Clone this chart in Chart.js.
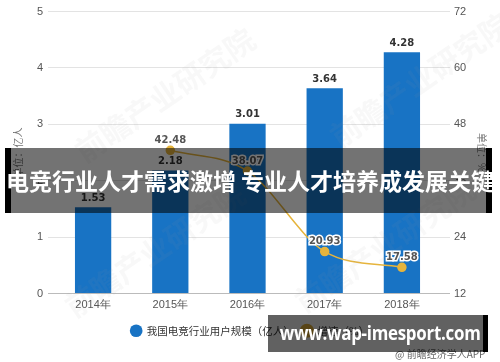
<!DOCTYPE html>
<html>
<head>
<meta charset="utf-8">
<script src="https://cdn.jsdelivr.net/npm/chart.js@4.4.0/dist/chart.umd.min.js"></script>
<style>
    html, body { margin: 0; padding: 0; background: #fff; }
    #wrap { position: relative; width: 500px; height: 362px; overflow: hidden; }
    #banner {
        position: absolute; left: 5px; top: 148px; width: 475px; height: 65px;
        background: rgba(0, 0, 0, 0.55);
        border-left: 6px solid #000; border-right: 6px solid #000;
    }
    #bannerText {
        position: absolute; left: 0; top: 148px; width: 500px; height: 65px;
        color: #fff; font-family: "Noto Sans CJK SC", sans-serif; font-weight: bold;
        font-size: 23px; line-height: 65px; text-align: center; white-space: nowrap;
        letter-spacing: 0px;
    }
    #site {
        position: absolute; left: 268px; top: 315px; width: 215px; height: 37px;
        background: rgba(0, 0, 0, 0.62);
        border-right: 5px solid #000;
    }
    #siteText {
        position: absolute; left: 268px; top: 315px; width: 215px; height: 37px;
        color: #fff; font-family: "Open Sans", sans-serif; font-weight: bold;
        font-size: 19px; line-height: 37px; text-align: center; white-space: nowrap;
        letter-spacing: -0.3px; transform: scaleX(0.89); transform-origin: 50% 50%;
    }
    #source {
        position: absolute; left: 395px; top: 346px; font-size: 10px; color: #666;
        font-family: "Noto Sans CJK SC", sans-serif; white-space: nowrap;
    }
</style>
</head>
<body>
<div id="wrap">
    <canvas id="chart" width="500" height="362"></canvas>
    <div id="source">@ 前瞻经济学人APP</div>
    <div id="banner"></div>
    <div id="bannerText">电竞行业人才需求激增 专业人才培养成发展关键</div>
    <div id="site"></div>
    <div id="siteText">www.wap-imesport.com</div>
</div>
<script>
const years = ['2014年', '2015年', '2016年', '2017年', '2018年'];
const users = [1.53, 2.18, 3.01, 3.64, 4.28];
const growth = [null, 42.48, 38.07, 20.93, 17.58];
const userLabel = '我国电竞行业用户规模（亿人）';
const growthLabel = '增速（%）';

const blue = '#1873c4';
const gold = '#e6b43c';

// the category band sits a little inside the gridlines
const insetX = {
    id: 'insetX',
    afterLayout(chart) {
        const x = chart.scales.x;
        x.left += 6.5;
        x.right -= 9.5;
        x.width = x.right - x.left;
        x.configure();
    }
};

// value labels over bars and line points
const valueLabels = {
    id: 'valueLabels',
    afterDatasetsDraw(chart) {
        const ctx = chart.ctx;
        ctx.save();
        ctx.textAlign = 'center';
        ctx.textBaseline = 'bottom';
        ctx.font = 'bold 10px "DejaVu Sans", sans-serif';

        chart.getDatasetMeta(0).data.forEach((bar, i) => {
            ctx.fillStyle = '#333';
            ctx.fillText(users[i].toFixed(2), bar.x, bar.y - 4);
        });

        chart.getDatasetMeta(1).data.forEach((pt, i) => {
            if (growth[i] == null) return;
            const txt = growth[i].toFixed(2);
            ctx.lineWidth = 3;
            ctx.strokeStyle = '#fff';
            ctx.strokeText(txt, pt.x, pt.y - 5);
            ctx.fillStyle = '#555';
            ctx.fillText(txt, pt.x, pt.y - 5);
        });
        ctx.restore();
    }
};

// faint brand watermark
const watermark = {
    id: 'watermark',
    afterDatasetsDraw(chart) {
        const ctx = chart.ctx;
        const spots = [[165, 95], [420, 80], [155, 250], [385, 245]];
        ctx.save();
        ctx.font = 'bold 30px "Noto Sans CJK SC"';
        ctx.textAlign = 'center';
        ctx.textBaseline = 'middle';
        spots.forEach(([x, y]) => {
            ctx.save();
            ctx.translate(x, y);
            ctx.rotate(-0.6);
            ctx.fillStyle = 'rgba(150, 150, 150, 0.07)';
            ctx.fillText('前瞻产业研究院', 0, 0);
            ctx.restore();
        });
        ctx.restore();
    }
};

new Chart(document.getElementById('chart'), {
    data: {
        labels: years,
        datasets: [{
            type: 'bar',
            label: userLabel,
            data: users,
            backgroundColor: blue,
            yAxisID: 'y',
            order: 1,
            categoryPercentage: 1,
            barPercentage: 0.47
        }, {
            type: 'line',
            label: growthLabel,
            data: growth,
            borderColor: gold,
            backgroundColor: gold,
            borderWidth: 1.5,
            pointRadius: 4,
            pointBackgroundColor: gold,
            pointBorderColor: gold,
            cubicInterpolationMode: 'monotone',
            yAxisID: 'y1',
            order: 0
        }]
    },
    options: {
        responsive: false,
        animation: false,
        layout: { padding: { top: 5, bottom: 16 } },
        plugins: {
            legend: {
                position: 'bottom',
                labels: {
                    usePointStyle: true,
                    pointStyle: 'circle',
                    boxHeight: 9,
                    padding: 8,
                    color: '#333',
                    font: { size: 10.5, family: '"Noto Sans CJK SC", sans-serif' },
                    sort: (a, b) => a.datasetIndex - b.datasetIndex
                }
            },
            tooltip: { enabled: false }
        },
        scales: {
            x: {
                grid: { display: false, drawTicks: false },
                border: { display: false },
                ticks: { color: '#555', font: { size: 11 }, padding: 5 },
                afterFit: s => { s.height = 24; }
            },
            y: {
                position: 'left',
                min: 0, max: 5,
                ticks: { stepSize: 1, color: '#555', font: { size: 11 }, padding: 5 },
                grid: {
                    drawTicks: false,
                    color: c => c.tick && c.tick.value === 0 ? '#bbb' : '#e3e3e3'
                },
                border: { display: false },
                title: {
                    display: true, text: '单位：亿人', color: '#777',
                    padding: { top: 12, bottom: 0 },
                    font: { size: 10, family: '"Noto Sans CJK SC", sans-serif' }
                },
                afterFit: s => { s.width = 48; }
            },
            y1: {
                position: 'right',
                min: 12, max: 72,
                ticks: { stepSize: 12, color: '#555', font: { size: 11 }, padding: 4 },
                grid: { display: false, drawTicks: false },
                border: { display: false },
                title: {
                    display: true, text: '单位：%', color: '#777',
                    padding: { top: 12, bottom: 0 },
                    font: { size: 10, family: '"Noto Sans CJK SC", sans-serif' }
                },
                afterFit: s => { s.width = 50; }
            }
        }
    },
    plugins: [insetX, watermark, valueLabels]
});
</script>
</body>
</html>
